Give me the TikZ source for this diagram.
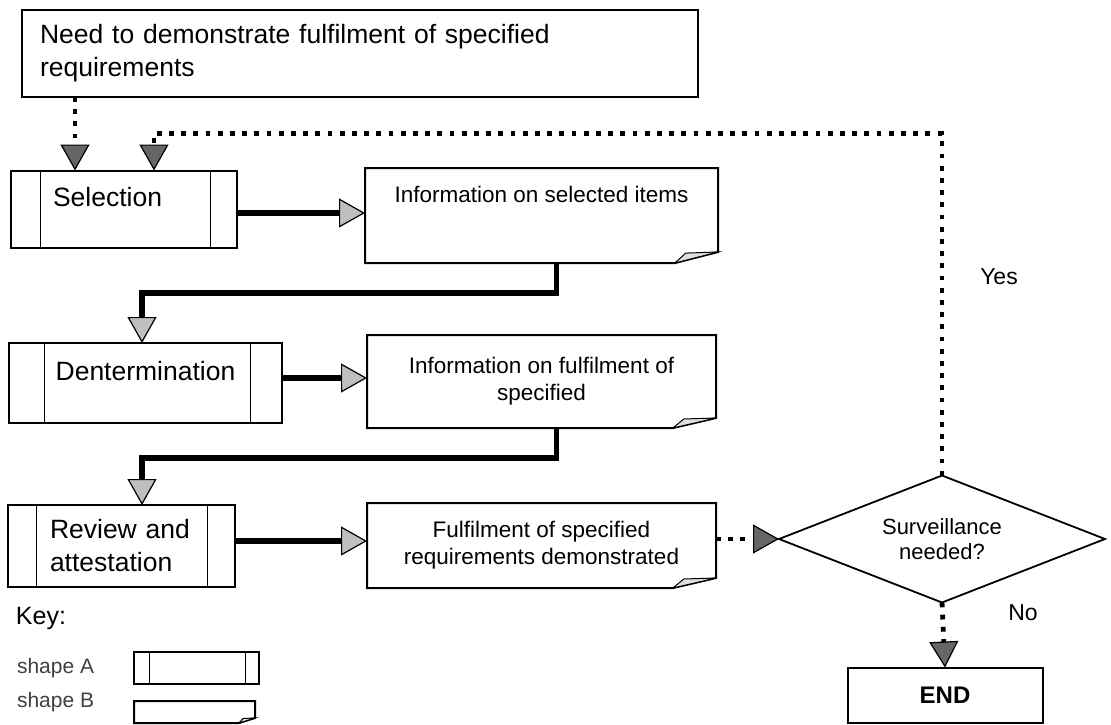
\documentclass[tikz,border=0pt]{standalone}
\usepackage{fontspec}
\setmainfont{Liberation Sans}
\usetikzlibrary{arrows.meta,shapes.geometric,calc}
\tikzset{
  every node/.style={inner sep=0pt,outer sep=0pt},
  bigfont/.style={font=\fontsize{26.5}{33}\selectfont},
  docfont/.style={font=\fontsize{22.5}{27}\selectfont},
  boxline/.style={line width=2pt},
  shapeA/.style={draw,boxline,rectangle,bigfont,align=left},
  docnode/.style={rectangle,docfont,align=center},
  innerline/.style={line width=1pt},
  flow/.style={line width=5.5pt,-{Triangle[length=26pt,width=29pt,line width=1.2pt,fill=gray!50]}},
  dotflow/.style={line width=4.8pt,dash pattern=on 4.8pt off 7.4pt,-{Triangle[length=26pt,width=29pt,line width=1.2pt,fill=black!60]}},
  lbl/.style={font=\fontsize{23}{27}\selectfont},
}
\newcommand\docoutline[3]{%
  \draw[boxline,line join=miter] (#1.south west) -- (#1.north west) -- (#1.north east) -- ([yshift=#3]#1.south east) -- ([xshift=-#2]#1.south east) -- cycle;
  \draw[line width=1pt,fill=gray!25] ([xshift=-#2]#1.south east) -- ([xshift={-0.75*#2},yshift={0.9*#3}]#1.south east) -- ([yshift=#3]#1.south east) -- cycle;
}
\begin{document}
\begin{tikzpicture}[x=1pt,y=-1pt]
\path[use as bounding box,fill=white] (0,0) rectangle (1111,725);

% top box
\node[draw,boxline,bigfont,align=left,text width=640pt,minimum width=676pt,minimum height=87pt] (top) at (360,53.5)
  {Need to demonstrate fulfilment of specified\\requirements};

% shape A boxes
\node[shapeA,text width=142pt,minimum width=226pt,minimum height=77pt,text height=19pt,text depth=24.4pt] (sel) at (124,209) {Selection};
\draw[innerline] ([xshift=29pt]sel.north west) -- ([xshift=29pt]sel.south west);
\draw[innerline] ([xshift=-27pt]sel.north east) -- ([xshift=-27pt]sel.south east);

\node[shapeA,align=center,minimum width=273pt,minimum height=80pt,text height=19pt,text depth=24.4pt] (det) at (145.5,383) {Dentermination};
\draw[innerline] ([xshift=35pt]det.north west) -- ([xshift=35pt]det.south west);
\draw[innerline] ([xshift=-32pt]det.north east) -- ([xshift=-32pt]det.south east);

\node[shapeA,text width=143pt,minimum width=227pt,minimum height=82pt] (rev) at (121.5,546) {Review and\\attestation};
\draw[innerline] ([xshift=28pt]rev.north west) -- ([xshift=28pt]rev.south west);
\draw[innerline] ([xshift=-28pt]rev.north east) -- ([xshift=-28pt]rev.south east);

% documents
\node[docnode,minimum width=353pt,minimum height=95pt,text height=16pt,text depth=43pt] (d1) at (541.5,215.5) {Information on selected items};
\docoutline{d1}{43pt}{11pt}
\node[docnode,minimum width=349pt,minimum height=93pt] (d2) at (541.5,381.5) {Information on fulfilment of\\specified};
\docoutline{d2}{43pt}{10pt}
\node[docnode,minimum width=349pt,minimum height=85pt] (d3) at (541.5,545.5) {Fulfilment of specified\\requirements demonstrated};
\docoutline{d3}{43pt}{10pt}

% decision and end
\node[diamond,draw,line width=1.8pt,aspect=2.55,minimum width=326pt,minimum height=127pt,align=center,font=\fontsize{22}{25}\selectfont] (dia) at (942,539) {Surveillance\\needed?};
\node[draw,boxline,minimum width=195pt,minimum height=55pt,font=\bfseries\fontsize{24}{28}\selectfont] (end) at (945,695) {END};
\node[lbl] (yes) at (999,277) {Yes};
\node[lbl] (no) at (1023,613) {No};

% key
\node[anchor=west,font=\fontsize{25}{30}\selectfont] (key) at (16,618) {Key:};
\node[anchor=west,font=\fontsize{21}{25}\selectfont,text=black!75] (la) at (17,668) {shape A};
\node[anchor=west,font=\fontsize{21}{25}\selectfont,text=black!75] (lb) at (17,702) {shape B};
\node[draw,line width=1.4pt,minimum width=125pt,minimum height=32pt] (keyA) at (196.5,668) {};
\draw[innerline] ([xshift=15pt]keyA.north west) -- ([xshift=15pt]keyA.south west);
\draw[innerline] ([xshift=-14pt]keyA.north east) -- ([xshift=-14pt]keyA.south east);
\node[minimum width=121pt,minimum height=22pt] (keyB) at (194.5,712) {};
\docoutline{keyB}{16pt}{5pt}

% solid flows
\draw[flow] ([yshift=-4pt]sel.east) -- ([yshift=-4pt]sel.east -| d1.west);
\draw[flow] ([xshift=15pt]d1.south) -- ++(0,30) -| ([xshift=-3.5pt]det.north);
\draw[flow] ([yshift=5pt]det.east) -- ([yshift=5pt]det.east -| d2.west);
\draw[flow] ([xshift=15pt]d2.south) -- ++(0,30) -| ([xshift=20.5pt]rev.north);
\draw[flow] ([yshift=5pt]rev.east) -- ([yshift=5pt]rev.east -| d3.west);

% dotted flows
\draw[dotflow] ([xshift=64pt]sel.north west |- top.south) -- ([xshift=64pt]sel.north west);
\draw[dotflow] (dia.north) |- ([xshift=143pt,yshift=37pt]sel.north west) -- ([xshift=143pt]sel.north west);
\draw[dotflow] (d3.east |- dia.west) -- (dia.west);
\draw[dotflow] (dia.south) -- (end.north);
\end{tikzpicture}
\end{document}
